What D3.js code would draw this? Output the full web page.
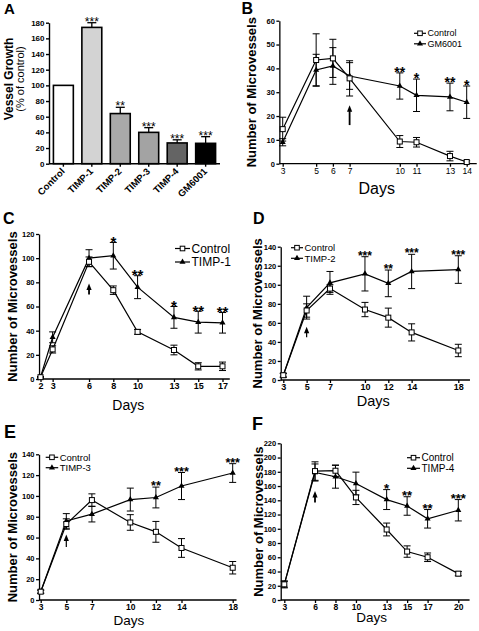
<!DOCTYPE html>
<html><head><meta charset="utf-8">
<script src="https://cdn.jsdelivr.net/npm/d3@7"></script>
<style>html,body{margin:0;padding:0;background:#fff;} svg{display:block;}</style>
</head><body>
<svg id="chart" width="479" height="631"></svg>
<script>
// ---------- DATA ----------
// Panel A
const barCategories = ["Control", "TIMP-1", "TIMP-2", "TIMP-3", "TIMP-4", "GM6001"];
const barValues = [100, 174, 64, 40, 26.5, 26];
const barErrors = [0, 6, 8, 6, 4, 8.5];
const barStars = ["", "***", "**", "***", "***", "***"];
const barTicks = [0, 20, 40, 60, 80, 100, 120, 140, 160, 180];

// Panel B
const daysB = [3, 5, 6, 7, 10, 11, 13, 14];
const ctrlB = [14.5, 43.5, 44.2, 35.8, 9.3, 9, 3.2, 0.7];
const ctrlErrB = [5, 11, 8, 7.4, 2.5, 2, 2, 0.5];
const gmB = [9, 39.3, 41, 36.8, 32.6, 28.7, 28, 25.8];
const gmErrB = [1.5, 6.6, 7.7, 5.6, 5.5, 6.8, 5.8, 6.8];
const starsB = ["", "", "", "", "**", "*", "**", "*"];
const ticksB = [0, 10, 20, 30, 40, 50, 60];

// Panel C
const daysC = [2, 3, 6, 8, 10, 13, 15, 17];
const ctrlC = [1.5, 24.5, 97, 73.5, 39, 24, 10.5, 10.5];
const ctrlErrC = [0.5, 3, 4, 3.5, 2, 4, 3, 3.5];
const timp1C = [1.5, 34.5, 100, 102, 76, 51, 47, 46.5];
const timp1ErrC = [0.5, 4.5, 7, 11, 9.5, 9, 9, 8.5];
const starsC = ["", "", "", "*", "**", "*", "**", "**"];
const ticksC = [0, 20, 40, 60, 80, 100, 120];

// Panel D
const daysD = [3, 5, 7, 10, 12, 14, 18];
const ctrlD = [5, 73, 96, 74, 65.5, 50, 31];
const ctrlErrD = [2, 7, 4, 7.5, 10, 9, 6.5];
const timp2D = [5, 76, 102, 111.5, 101.5, 114, 116];
const timp2ErrD = [2, 12, 12, 18, 14, 18, 14.5];
const starsD = ["", "", "", "***", "**", "***", "***"];
const ticksD = [0, 20, 40, 60, 80, 100, 120, 140];

// Panel E
const daysE = [3, 5, 7, 10, 12, 14, 18];
const ctrlE = [8, 73, 96, 74.5, 65.5, 50, 31];
const ctrlErrE = [1.5, 5, 6, 7.5, 10, 9, 6];
const timp3E = [8, 76, 82.5, 96.5, 98.5, 109.5, 122];
const timp3ErrE = [1.5, 7, 7.5, 11, 10, 13, 9];
const starsE = ["", "", "", "", "**", "***", "***"];
const ticksE = [0, 20, 40, 60, 80, 100, 120, 140];

// Panel F
const daysF = [3, 6, 8, 10, 13, 15, 17, 20];
const ctrlF = [22, 181, 181.5, 144, 99, 68, 60, 37];
const ctrlErrF = [5, 13, 8, 10, 9, 8, 6, 3];
const timp4F = [22, 179, 173, 163.5, 141, 132, 114, 126];
const timp4ErrF = [4, 12, 16, 16, 14, 13, 13, 15];
const starsF = ["", "", "", "", "*", "**", "**", "***"];
const ticksF = [0, 20, 40, 60, 80, 100, 120, 140, 160, 180, 200, 220];

// ---------- DRAWING ----------
const FONT = "'Liberation Sans', Arial, Helvetica, sans-serif";
const svg = d3.select("#chart").style("font-family", FONT);

function panelLetter(txt, x, y, fs) {
  svg.append("text").attr("x", x).attr("y", y).attr("font-size", fs)
    .attr("font-weight", "bold").text(txt);
}

// ---- Panel A ----
(function () {
  const g = svg.append("g");
  const y = d3.scaleLinear().domain([0, 180]).range([163.7, 22.7]);
  const x = d3.scaleBand().domain(barCategories).range([50, 219]).paddingInner(0.3).paddingOuter(0.12);
  const fills = ["#ffffff", "#d3d3d3", "#a9a9a9", "#a3a3a3", "#646464", "#000000"];

  barCategories.forEach((c, i) => {
    if (barErrors[i] > 0) {
      const cx = x(c) + x.bandwidth() / 2;
      g.append("line").attr("x1", cx).attr("x2", cx)
        .attr("y1", y(barValues[i])).attr("y2", y(barValues[i] + barErrors[i]))
        .attr("stroke", "#000").attr("stroke-width", 1.3);
      g.append("line").attr("x1", cx - 4.5).attr("x2", cx + 4.5)
        .attr("y1", y(barValues[i] + barErrors[i])).attr("y2", y(barValues[i] + barErrors[i]))
        .attr("stroke", "#000").attr("stroke-width", 1.3);
    }
  });
  g.selectAll("rect.bar").data(barCategories).enter().append("rect")
    .attr("x", d => x(d)).attr("width", x.bandwidth())
    .attr("y", (d, i) => y(barValues[i])).attr("height", (d, i) => y(0) - y(barValues[i]))
    .attr("fill", (d, i) => fills[i]).attr("stroke", "#000").attr("stroke-width", 1.6);

  g.selectAll("text.star").data(barCategories).enter().append("text")
    .attr("x", d => x(d) + x.bandwidth() / 2)
    .attr("y", (d, i) => y(barValues[i] + barErrors[i]) - 2 + 0.43 * 12)
    .attr("text-anchor", "middle").attr("font-size", 12)
    .text((d, i) => barStars[i]);

  const yAx = g.append("g").attr("transform", "translate(49,0)")
    .call(d3.axisLeft(y).tickValues(barTicks).tickSize(3).tickSizeOuter(0).tickPadding(1.5));
  yAx.selectAll("text").attr("font-size", 8).attr("font-weight", "bold").attr("font-family", FONT);
  yAx.selectAll("line,path").attr("stroke-width", 1.4);

  const xAx = g.append("g").attr("transform", "translate(0,163.7)")
    .call(d3.axisBottom(x).tickSize(3).tickSizeOuter(0).tickFormat(""));
  xAx.select("path.domain").attr("d", "M49,0H220");
  xAx.selectAll("line,path").attr("stroke-width", 1.4);
  barCategories.forEach(c => {
    const cx = x(c) + x.bandwidth() / 2 + 2;
    g.append("text").attr("transform", `translate(${cx},${172}) rotate(-45)`)
      .attr("text-anchor", "end").attr("font-size", 9.5).attr("font-weight", "bold").text(c);
  });

  g.append("text").attr("transform", "translate(13,79) rotate(-90)").attr("text-anchor", "middle")
    .attr("font-size", 12).attr("font-weight", "bold").text("Vessel Growth");
  g.append("text").attr("transform", "translate(24,79) rotate(-90)").attr("text-anchor", "middle")
    .attr("font-size", 11).text("(% of control)");
  panelLetter("A", 4, 14, 15);
})();

// ---- line panels ----
function linePanel(p) {
  const g = svg.append("g");
  const x = d3.scaleLinear().domain([p.d0, p.d1]).range([p.px0, p.px1]);
  const y = d3.scaleLinear().domain([0, p.yMax]).range([p.y0, p.yTop]);
  const axX = x(p.axMin), axXEnd = x(p.axMax);

  const xAx = g.append("g").attr("transform", `translate(0,${p.y0})`)
    .call(d3.axisBottom(x).tickValues(p.days).tickSize(3).tickSizeOuter(0).tickPadding(1).tickFormat(d3.format("d")));
  xAx.select("path.domain").attr("d", `M${axX},0H${axXEnd}`);
  xAx.selectAll("line,path").attr("stroke-width", 1.3);
  xAx.selectAll("text").attr("font-size", p.xfs).attr("font-weight", p.xfw).attr("font-family", FONT);

  const yAx = g.append("g").attr("transform", `translate(${axX},0)`)
    .call(d3.axisLeft(y).tickValues(p.ticks).tickSize(3).tickSizeOuter(0).tickPadding(1.5));
  yAx.selectAll("line,path").attr("stroke-width", 1.3);
  yAx.selectAll("text").attr("font-size", 7.5).attr("font-weight", "bold").attr("font-family", FONT);

  const lineGen = vals => d3.line().x((d, i) => x(p.days[i])).y(d => y(d))(vals);
  g.append("path").attr("d", lineGen(p.trt)).attr("fill", "none").attr("stroke", "#000").attr("stroke-width", 1.2);
  g.append("path").attr("d", lineGen(p.ctrl)).attr("fill", "none").attr("stroke", "#000").attr("stroke-width", 1.2);

  function errs(vals, errsArr) {
    vals.forEach((v, i) => {
      const cx = x(p.days[i]);
      const e = errsArr[i];
      g.append("line").attr("x1", cx).attr("x2", cx).attr("y1", y(v - e)).attr("y2", y(v + e))
        .attr("stroke", "#000").attr("stroke-width", 1);
      [v - e, v + e].forEach(t => g.append("line").attr("x1", cx - 3.5).attr("x2", cx + 3.5)
        .attr("y1", y(t)).attr("y2", y(t)).attr("stroke", "#000").attr("stroke-width", 1));
    });
  }
  errs(p.ctrl, p.ctrlErr);
  errs(p.trt, p.trtErr);

  const tri = d3.symbol().type(d3.symbolTriangle).size(16);
  p.trt.forEach((v, i) => g.append("path").attr("d", tri())
    .attr("transform", `translate(${x(p.days[i])},${y(v)})`).attr("fill", "#000"));
  p.ctrl.forEach((v, i) => g.append("rect").attr("x", x(p.days[i]) - 2.5).attr("y", y(v) - 2.5)
    .attr("width", 5).attr("height", 5).attr("fill", "#fff").attr("stroke", "#000").attr("stroke-width", 1));

  p.stars.forEach((s, i) => {
    if (!s) return;
    g.append("text").attr("x", x(p.days[i])).attr("y", y(p.trt[i] + p.trtErr[i]) - 2 + 0.43 * p.sfs)
      .attr("text-anchor", "middle").attr("font-size", p.sfs).attr("font-weight", "bold").text(s);
  });

  const ax = x(p.arrowDay), ay1 = y(p.arrowFrom), ay2 = y(p.arrowTo);
  g.append("line").attr("x1", ax).attr("x2", ax).attr("y1", ay1).attr("y2", ay2 + 5)
    .attr("stroke", "#000").attr("stroke-width", p.arrowW);
  g.append("path").attr("d", `M${ax},${ay2}L${ax - 2.6},${ay2 + 6.5}L${ax + 2.6},${ay2 + 6.5}Z`).attr("fill", "#000");

  [["Control", "sq"], [p.trtName, "tri"]].forEach(([lab, m], k) => {
    const ly = p.leg.y + k * p.leg.dy;
    g.append("line").attr("x1", p.leg.x).attr("x2", p.leg.x + p.leg.len).attr("y1", ly).attr("y2", ly)
      .attr("stroke", "#000").attr("stroke-width", 1.2);
    const mx = p.leg.x + p.leg.len / 2;
    if (m === "sq") g.append("rect").attr("x", mx - 2.3).attr("y", ly - 2.3).attr("width", 4.6).attr("height", 4.6)
      .attr("fill", "#fff").attr("stroke", "#000").attr("stroke-width", 1);
    else g.append("path").attr("d", tri()).attr("transform", `translate(${mx},${ly})`).attr("fill", "#000");
    g.append("text").attr("x", p.leg.x + p.leg.len + 1.5).attr("y", ly).attr("dy", "0.35em")
      .attr("font-size", p.leg.fs).text(lab);
  });

  g.append("text").attr("transform", `translate(${p.ytX},${(p.y0 + p.yTop) / 2 + p.ytDy}) rotate(-90)`)
    .attr("text-anchor", "middle").attr("font-size", 13).attr("font-weight", "bold").text("Number of Microvessels");
  g.append("text").attr("x", p.daysX).attr("y", p.daysY).attr("text-anchor", "middle")
    .attr("font-size", p.daysFs).text("Days");
  panelLetter(p.letter, p.lx, p.ly, p.lfs);
}

linePanel({ days: daysB, ctrl: ctrlB, ctrlErr: ctrlErrB, trt: gmB, trtErr: gmErrB, stars: starsB, ticks: ticksB,
  trtName: "GM6001", arrowDay: 7, arrowFrom: 16.2, arrowTo: 24.5, arrowW: 1.8,
  d0: 3, d1: 14, px0: 282.7, px1: 466.7, axMin: 2.8, axMax: 14.6, yMax: 60, y0: 163.7, yTop: 20.7,
  xfs: 8.5, xfw: "normal", sfs: 14,
  leg: { x: 414, y: 33.3, dy: 10.5, len: 12, fs: 9 },
  ytX: 256, ytDy: 0, daysX: 376.7, daysY: 193.5, daysFs: 16, letter: "B", lx: 241.5, ly: 13.5, lfs: 16 });

linePanel({ days: daysC, ctrl: ctrlC, ctrlErr: ctrlErrC, trt: timp1C, trtErr: timp1ErrC, stars: starsC, ticks: ticksC,
  trtName: "TIMP-1", arrowDay: 6, arrowFrom: 70, arrowTo: 79, arrowW: 1.8,
  d0: 2, d1: 17, px0: 40.5, px1: 222.5, axMin: 1.88, axMax: 17.6, yMax: 120, y0: 379, yTop: 234,
  xfs: 9, xfw: "bold", sfs: 15,
  leg: { x: 175, y: 248.5, dy: 13.5, len: 15, fs: 12 },
  ytX: 17, ytDy: 0, daysX: 128.3, daysY: 409.5, daysFs: 14, letter: "C", lx: 3, ly: 223.5, lfs: 16 });

linePanel({ days: daysD, ctrl: ctrlD, ctrlErr: ctrlErrD, trt: timp2D, trtErr: timp2ErrD, stars: starsD, ticks: ticksD,
  trtName: "TIMP-2", arrowDay: 5, arrowFrom: 45, arrowTo: 56, arrowW: 1.2,
  d0: 3, d1: 18, px0: 283.3, px1: 458.3, axMin: 2.78, axMax: 19, yMax: 140, y0: 380, yTop: 246.7,
  xfs: 9, xfw: "bold", sfs: 12,
  leg: { x: 291, y: 247.7, dy: 10.6, len: 12, fs: 9.5 },
  ytX: 262, ytDy: 0, daysX: 373.3, daysY: 405.5, daysFs: 14.5, letter: "D", lx: 253, ly: 223.5, lfs: 16 });

linePanel({ days: daysE, ctrl: ctrlE, ctrlErr: ctrlErrE, trt: timp3E, trtErr: timp3ErrE, stars: starsE, ticks: ticksE,
  trtName: "TIMP-3", arrowDay: 5, arrowFrom: 51, arrowTo: 63, arrowW: 1.2,
  d0: 3, d1: 18, px0: 40.7, px1: 232.7, axMin: 2.87, axMax: 18.3, yMax: 140, y0: 600, yTop: 454.3,
  xfs: 8.5, xfw: "bold", sfs: 12.5,
  leg: { x: 45.7, y: 457.3, dy: 10.4, len: 12.5, fs: 9.5 },
  ytX: 17, ytDy: 0, daysX: 129, daysY: 625, daysFs: 13.5, letter: "E", lx: 4, ly: 438, lfs: 18 });

linePanel({ days: daysF, ctrl: ctrlF, ctrlErr: ctrlErrF, trt: timp4F, trtErr: timp4ErrF, stars: starsF, ticks: ticksF,
  trtName: "TIMP-4", arrowDay: 6, arrowFrom: 137, arrowTo: 153, arrowW: 1.8,
  d0: 3, d1: 20, px0: 284.3, px1: 458.3, axMin: 2.65, axMax: 21.1, yMax: 220, y0: 600, yTop: 443.3,
  xfs: 8.5, xfw: "bold", sfs: 13,
  leg: { x: 407, y: 457.7, dy: 10.6, len: 13, fs: 10 },
  ytX: 263, ytDy: 0, daysX: 371.7, daysY: 622, daysFs: 13.5, letter: "F", lx: 252, ly: 430, lfs: 18 });
</script>
</body></html>
